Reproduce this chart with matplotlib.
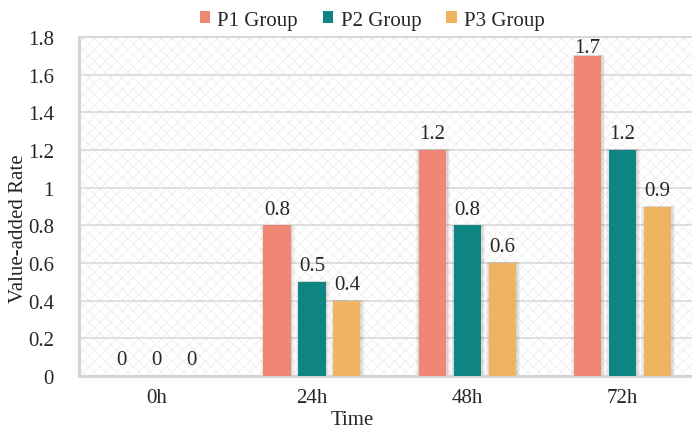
import matplotlib
matplotlib.use("Agg")
import matplotlib.pyplot as plt
from matplotlib.patches import Rectangle, Patch
import numpy as np

categories = ["0h", "24h", "48h", "72h"]
series_names = ["P1 Group", "P2 Group", "P3 Group"]
p1 = [0, 0.8, 1.2, 1.7]
p2 = [0, 0.5, 0.8, 1.2]
p3 = [0, 0.4, 0.6, 0.9]
yticks = [0, 0.2, 0.4, 0.6, 0.8, 1, 1.2, 1.4, 1.6, 1.8]
ytick_labels = ["0", "0.2", "0.4", "0.6", "0.8", "1", "1.2", "1.4", "1.6", "1.8"]
colors = ["#F08774", "#0E8582", "#EEB462"]

plt.rcParams['font.family'] = ['Liberation Serif', 'DejaVu Serif']
plt.rcParams['hatch.linewidth'] = 0.5
plt.rcParams['hatch.color'] = '#ececec'

FS = 15
TC = '#262626'

fig = plt.figure(figsize=(6.92, 4.31), dpi=100)
ax = fig.add_axes([0.114, 0.1253, 0.898, 0.7865])
ax.set_xlim(-0.5, 3.5)
ax.set_ylim(0, 1.8)

# hatched background
bg = Rectangle((0, 0), 1, 1, transform=ax.transAxes, facecolor='white',
               edgecolor='#ececec', hatch='xxx', linewidth=0, zorder=0)
ax.add_patch(bg)

for y in yticks[1:]:
    ax.axhline(y, color='#d9d9d9', lw=1.2, zorder=1)

x = np.arange(len(categories))
width = 0.175
offs = [-0.225, 0, 0.225]
data = [p1, p2, p3]
ymax = 1.8
for vals, off, c, name in zip(data, offs, colors, series_names):
    xs = x + off
    # soft shadow
    for k, a in zip([0.022, 0.014, 0.007], [0.04, 0.05, 0.06]):
        ax.bar(xs + 0.004, [v + (0.004 if v > 0 else 0) for v in vals],
               width=width + 2 * k, color='#000000', alpha=a,
               linewidth=0, zorder=2)
    ax.bar(xs, vals, width=width, color=c, linewidth=0, zorder=3, label=name)
    for xi, v in zip(xs, vals):
        if v + 0.03 + 0.1 > ymax:
            ax.text(xi, ymax - 0.005, f"{v:g}", ha='center', va='top', fontsize=FS,
                    color=TC, zorder=4, clip_on=False)
        else:
            ax.text(xi, v + 0.035, f"{v:g}", ha='center', va='bottom', fontsize=FS,
                    color=TC, zorder=4, clip_on=False)

ax.set_xticks(x)
ax.set_xticklabels(categories, fontsize=FS, color=TC)
ax.set_yticks(yticks)
ax.set_yticklabels(ytick_labels, fontsize=FS, color=TC)
ax.tick_params(axis='both', length=0)
ax.tick_params(axis='y', pad=18)
ax.tick_params(axis='x', pad=9)

ax.spines['right'].set_visible(False)
ax.spines['left'].set_color('#d4d4d4')
ax.spines['left'].set_linewidth(2.2)
ax.spines['bottom'].set_color('#d4d4d4')
ax.spines['bottom'].set_linewidth(2.2)
ax.spines['top'].set_color('#d9d9d9')
ax.spines['top'].set_linewidth(1.5)

fig.text(0.509, 0.003, "Time", ha='center', va='bottom', fontsize=FS, color=TC)
fig.text(0.027, 0.47, "Value-added Rate", ha='center', va='center', rotation=90,
         fontsize=FS, color=TC)

handles = [Patch(facecolor=c, edgecolor='none') for c in colors]
fig.legend(handles, series_names, loc='center', bbox_to_anchor=(0.538, 0.951),
           ncol=3, frameon=False, fontsize=FS, handlelength=0.5, handleheight=0.5,
           handletextpad=0.35, columnspacing=1.2, labelcolor=TC)

fig.savefig("out.png", dpi=100)
